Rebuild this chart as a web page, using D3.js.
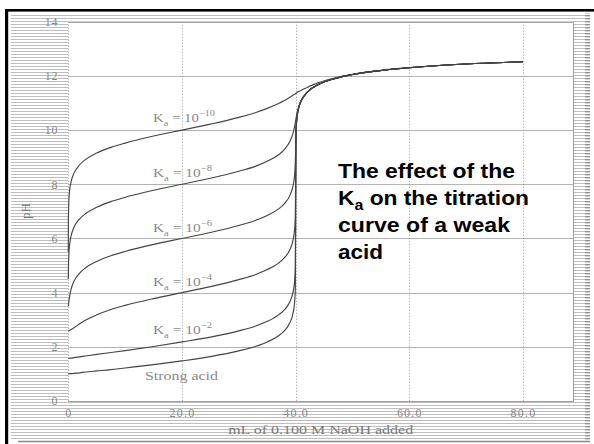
<!DOCTYPE html>
<html>
<head>
<meta charset="utf-8">
<script src="https://cdn.jsdelivr.net/npm/d3@7"></script>
<style>
  html, body { margin: 0; padding: 0; background: #fff; }
  svg { display: block; }
</style>
</head>
<body>
<svg id="chart" width="594" height="444"></svg>
<script>
// Volume of 0.100 M NaOH added (mL) to 40.0 mL of 0.100 M acid
const volume = [0, 0.02, 0.1, 0.25, 0.5, 1, 2, 3, 5, 7.5, 10, 15, 20, 25, 30, 33, 35, 37, 38, 39,
  39.5, 39.8, 39.9, 39.95, 40, 40.05, 40.1, 40.2, 40.5, 41, 42, 44, 47, 50, 55, 60, 70, 80];

// pH for each acid at the volumes above
const pHKa10 = [5.50, 6.70, 7.40, 7.80, 8.10, 8.41, 8.72, 8.91, 9.15, 9.36, 9.52, 9.78, 10.00, 10.22, 10.47, 10.65, 10.80, 10.98, 11.09, 11.21,
  11.28, 11.32, 11.33, 11.34, 11.35, 11.36, 11.36, 11.38, 11.42, 11.47, 11.57, 11.75, 11.93, 12.06, 12.21, 12.31, 12.44, 12.52];
const pHKa8 = [4.50, 4.82, 5.40, 5.80, 6.10, 6.41, 6.72, 6.91, 7.15, 7.36, 7.52, 7.78, 8.00, 8.22, 8.48, 8.67, 8.85, 9.09, 9.28, 9.59,
  9.85, 10.12, 10.23, 10.29, 10.35, 10.41, 10.47, 10.58, 10.84, 11.10, 11.39, 11.68, 11.91, 12.05, 12.20, 12.30, 12.44, 12.52];
const pHKa6 = [3.50, 3.53, 3.67, 3.88, 4.13, 4.42, 4.72, 4.91, 5.15, 5.36, 5.52, 5.78, 6.00, 6.22, 6.48, 6.67, 6.85, 7.09, 7.28, 7.59,
  7.90, 8.30, 8.59, 8.85, 9.35, 9.85, 10.11, 10.40, 10.79, 11.09, 11.39, 11.68, 11.91, 12.05, 12.20, 12.30, 12.44, 12.52];
const pHKa4 = [2.58, 2.58, 2.59, 2.61, 2.64, 2.70, 2.85, 2.98, 3.18, 3.38, 3.53, 3.78, 4.00, 4.22, 4.48, 4.67, 4.85, 5.09, 5.28, 5.59,
  5.90, 6.30, 6.60, 6.90, 8.35, 9.80, 10.10, 10.40, 10.79, 11.09, 11.39, 11.68, 11.91, 12.05, 12.20, 12.30, 12.44, 12.52];
const pHKa2 = [1.57, 1.57, 1.57, 1.58, 1.58, 1.60, 1.63, 1.66, 1.72, 1.79, 1.86, 2.01, 2.18, 2.36, 2.59, 2.77, 2.94, 3.18, 3.36, 3.67,
  3.98, 4.38, 4.68, 4.98, 7.30, 9.80, 10.10, 10.40, 10.79, 11.09, 11.39, 11.68, 11.91, 12.05, 12.20, 12.30, 12.44, 12.52];
const pHStrong = [1.00, 1.00, 1.00, 1.01, 1.01, 1.02, 1.04, 1.07, 1.11, 1.16, 1.22, 1.34, 1.48, 1.64, 1.85, 2.02, 2.18, 2.41, 2.59, 2.90,
  3.20, 3.60, 3.90, 4.20, 7.00, 9.80, 10.10, 10.40, 10.79, 11.09, 11.39, 11.68, 11.91, 12.05, 12.20, 12.30, 12.44, 12.52];

const kaExponents = ["\u221210", "\u22128", "\u22126", "\u22124", "\u22122"];
const strongLabel = "Strong acid";

const xTicks = [0, 20, 40, 60, 80];
const xTickLabels = ["0", "20.0", "40.0", "60.0", "80.0"];
const yTicks = [0, 2, 4, 6, 8, 10, 12, 14];
const yTickLabels = ["0", "2", "4", "6", "8", "10", "12", "14"];
const xTitle = "mL of 0.100 M NaOH added";
const yTitle = "pH";
const noteLines = ["The effect of the", "K|a| on the titration", "curve of a weak", "acid"];

const svg = d3.select("#chart");
const W = 594, H = 444;
const plot = { left: 68.3, right: 573, top: 21.7, bottom: 401 };

const x = d3.scaleLinear().domain([0, 88.8]).range([plot.left, plot.right]);
const y = d3.scaleLinear().domain([0, 14]).range([plot.bottom, plot.top]);

// halftone-like horizontal line fill around the plot
const defs = svg.append("defs");
defs.append("pattern").attr("id", "scan").attr("patternUnits", "userSpaceOnUse")
  .attr("width", 8).attr("height", 3)
  .append("rect").attr("width", 8).attr("height", 1).attr("fill", "#bdbdbd");
defs.append("pattern").attr("id", "scanDark").attr("patternUnits", "userSpaceOnUse")
  .attr("width", 8).attr("height", 3)
  .append("rect").attr("width", 8).attr("height", 1.4).attr("fill", "#909090");

svg.append("rect").attr("width", W).attr("height", H).attr("fill", "#fff");
svg.append("rect").attr("x", 11).attr("y", 13).attr("width", 579).attr("height", 427).attr("fill", "url(#scan)");
svg.append("rect").attr("x", 585).attr("y", 13).attr("width", 5).attr("height", 427).attr("fill", "url(#scanDark)");
svg.append("rect").attr("x", plot.left).attr("y", plot.top)
  .attr("width", plot.right - plot.left).attr("height", plot.bottom - plot.top).attr("fill", "#fff");

// outer frame
svg.append("rect").attr("x", 5).attr("y", 9).attr("width", 589).attr("height", 2.6).attr("fill", "#000");
svg.append("rect").attr("x", 5).attr("y", 9).attr("width", 3.2).attr("height", H - 9).attr("fill", "#000");
svg.append("line").attr("x1", 18).attr("x2", 590).attr("y1", 441.5).attr("y2", 441.5)
  .attr("stroke", "#8c8c8c").attr("stroke-width", 1.5);

// grid
const grid = svg.append("g");
grid.selectAll("line.h").data(yTicks.filter(d => d > 0 && d < 14)).join("line")
  .attr("x1", plot.left).attr("x2", plot.right)
  .attr("y1", d => Math.round(y(d)) + 0.5).attr("y2", d => Math.round(y(d)) + 0.5)
  .attr("stroke", "#b4b4b4").attr("stroke-width", 1.2);
grid.selectAll("line.v").data(xTicks).join("line")
  .attr("x1", d => Math.round(x(d)) + 0.5).attr("x2", d => Math.round(x(d)) + 0.5)
  .attr("y1", plot.top).attr("y2", plot.bottom)
  .attr("stroke", "#9a9a9a").attr("stroke-width", 1).attr("stroke-dasharray", "1,2");

// plot border (top, right, bottom)
svg.append("path")
  .attr("d", `M${plot.left},${Math.round(plot.top) + 0.5}H${plot.right + 0.5}V${plot.bottom + 0.5}H${plot.left}`)
  .attr("fill", "none").attr("stroke", "#a0a0a0").attr("stroke-width", 1);

// axes
const axisFont = "'Liberation Serif', 'Times New Roman', serif";
const yAxis = svg.append("g").attr("transform", `translate(${plot.left - 8},0)`)
  .call(d3.axisLeft(y).tickValues(yTicks).tickSize(0).tickPadding(2)
    .tickFormat((d, i) => yTickLabels[i]));
yAxis.select(".domain").remove();
yAxis.selectAll("text").attr("font-family", axisFont).attr("font-size", 12)
  .attr("fill", "#8a8a8a").attr("letter-spacing", 0.8);

const xAxis = svg.append("g").attr("transform", `translate(0,${plot.bottom})`)
  .call(d3.axisBottom(x).tickValues(xTicks).tickSize(0).tickPadding(7)
    .tickFormat((d, i) => xTickLabels[i]));
xAxis.select(".domain").remove();
xAxis.selectAll("text").attr("font-family", axisFont).attr("font-size", 12)
  .attr("fill", "#8a8a8a").attr("letter-spacing", 1.2);

svg.append("text").attr("x", (plot.left + plot.right) / 2).attr("y", 434)
  .attr("text-anchor", "middle").attr("font-family", axisFont).attr("font-size", 12)
  .attr("fill", "#7a7a7a").attr("textLength", 185).attr("lengthAdjust", "spacingAndGlyphs")
  .text(xTitle);
svg.append("text").attr("transform", "translate(27,211) rotate(-90)")
  .attr("text-anchor", "middle").attr("dominant-baseline", "middle")
  .attr("font-family", axisFont).attr("font-size", 13).attr("fill", "#7a7a7a")
  .text(yTitle);

// titration curves
const line = d3.line().x((d, i) => x(volume[i])).y(d => y(d)).curve(d3.curveMonotoneX);
const curves = [pHStrong, pHKa2, pHKa4, pHKa6, pHKa8, pHKa10];
svg.append("g").selectAll("path").data(curves).join("path")
  .attr("d", d => line(d)).attr("fill", "none")
  .attr("stroke", "#444").attr("stroke-width", 1.15);

// curve labels
const kaBaselines = [122, 177, 232, 286, 334];
const kaWidths = [62, 59, 59, 59, 59];
kaExponents.forEach((e, i) => {
  const t = svg.append("text").attr("x", 153).attr("y", kaBaselines[i])
    .attr("font-family", axisFont).attr("font-size", 13).attr("fill", "#8a8a8a")
    .attr("textLength", kaWidths[i]).attr("lengthAdjust", "spacingAndGlyphs");
  t.append("tspan").text("K");
  t.append("tspan").attr("font-size", 9).attr("dy", 4).text("a");
  t.append("tspan").attr("dy", -4).text(" = 10");
  t.append("tspan").attr("font-size", 9).attr("dy", -6).text(e);
});
svg.append("text").attr("x", 145).attr("y", 380)
  .attr("font-family", axisFont).attr("font-size", 12).attr("fill", "#8a8a8a")
  .attr("textLength", 73).attr("lengthAdjust", "spacingAndGlyphs")
  .text(strongLabel);

// annotation
const noteWidths = [177, 191, 172, 45];
noteLines.forEach((ln, i) => {
  const t = svg.append("text").attr("x", 338).attr("y", 178 + i * 27)
    .attr("font-family", "'Liberation Sans', Arial, sans-serif").attr("font-weight", "bold")
    .attr("font-size", 20).attr("fill", "#000")
    .attr("textLength", noteWidths[i]).attr("lengthAdjust", "spacingAndGlyphs");
  ln.split("|").forEach((part, j) => {
    if (j === 1) t.append("tspan").attr("font-size", 14).attr("dy", 5).text(part);
    else if (j === 2) t.append("tspan").attr("dy", -5).text(part);
    else t.append("tspan").text(part);
  });
});
</script>
</body>
</html>
